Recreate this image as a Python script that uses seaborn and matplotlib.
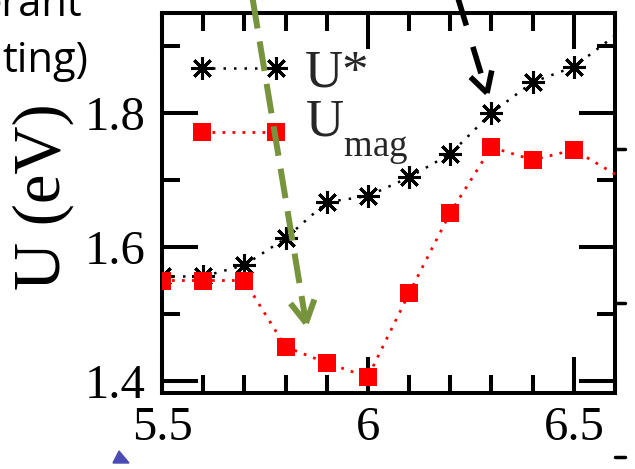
import numpy as np
import pandas as pd
import matplotlib
matplotlib.use("Agg")
import matplotlib.pyplot as plt
import seaborn as sns
from matplotlib.lines import Line2D
from matplotlib.patches import Polygon
from matplotlib.transforms import Affine2D
from matplotlib.ticker import MultipleLocator, FixedLocator, FixedFormatter

try:  # deeper subscript drop, as in the reference's "U_mag"
    import matplotlib._mathtext as _mt
    _mt.FontConstantsBase.sub1 = 0.85
except Exception:
    pass

# ---- data ----
x_vals = [5.5, 5.6, 5.7, 5.8, 5.9, 6.0, 6.1, 6.2, 6.3, 6.4, 6.5, 6.7]
u_star = [1.556, 1.556, 1.573, 1.613, 1.667, 1.676, 1.704, 1.739, 1.800, 1.846, 1.869, 1.962]
u_mag = [1.550, 1.550, 1.550, 1.451, 1.427, 1.406, 1.531, 1.651, 1.749, 1.730, 1.745, 1.673]
x_ticks = [5.5, 6.0, 6.5]
x_ticklabels = ["5.5", "6", "6.5"]
y_ticks = [1.4, 1.6, 1.8]
y_ticklabels = ["1.4", "1.6", "1.8"]
label_star = "U*"
label_mag = r"U$_{\mathrm{mag}}$"

W, H = 635, 469
sns.set_style("ticks")
plt.rcParams["font.family"] = ["Liberation Serif", "DejaVu Serif"]
plt.rcParams["mathtext.fontset"] = "custom"
plt.rcParams["mathtext.rm"] = "Liberation Serif"
plt.rcParams["mathtext.it"] = "Liberation Serif:italic"

fig = plt.figure(figsize=(W / 100, H / 100), dpi=100)
ax = fig.add_axes([162 / W, 1 - 393 / H, 453 / W, 380 / H])

df = pd.DataFrame({"x": x_vals, "ustar": u_star, "umag": u_mag})
sns.lineplot(data=df, x="x", y="umag", ax=ax, color="#ff0000", marker="s",
             markersize=13, markeredgecolor="#ff0000", markeredgewidth=0,
             linestyle=(0, (1, 2.6)), linewidth=2.0, label=label_mag, zorder=3)
sns.lineplot(data=df, x="x", y="ustar", ax=ax, color="black", marker=(8, 2, 0),
             markersize=16.5, markeredgecolor="black", markeredgewidth=2.2,
             linestyle=(0, (1, 3.2)), linewidth=1.8, label=label_star, zorder=2)

ax.set_xlim(5.5, 6.6)
ax.set_ylim(1.3821, 1.9493)
ax.xaxis.set_major_locator(FixedLocator(x_ticks))
ax.xaxis.set_major_formatter(FixedFormatter(x_ticklabels))
ax.xaxis.set_minor_locator(MultipleLocator(0.1))
ax.yaxis.set_major_locator(FixedLocator(y_ticks))
ax.yaxis.set_major_formatter(FixedFormatter(y_ticklabels))
ax.yaxis.set_minor_locator(MultipleLocator(0.1))
ax.tick_params(which="both", direction="in", top=True, right=True, width=2.9,
               color="black", labelsize=35, labelcolor="black")
ax.tick_params(which="major", length=26)
ax.tick_params(which="minor", length=13)
ax.tick_params(axis="x", pad=9)
ax.tick_params(axis="y", pad=12)
for s in ax.spines.values():
    s.set_linewidth(2.9)
    s.set_color("black")
ax.set_xlabel("")
ax.set_ylabel("U (eV)", fontsize=48, color="black")
ax.yaxis.set_label_coords(-0.195, 0.517)

handles, labels = ax.get_legend_handles_labels()
order = [labels.index(label_star), labels.index(label_mag)]
leg = ax.legend([handles[i] for i in order], [labels[i] for i in order],
                loc="upper left", bbox_to_anchor=(0.053, 0.905), frameon=False,
                fontsize=38, handlelength=2.0, handletextpad=0.25, borderpad=0,
                borderaxespad=0, labelspacing=0.31, numpoints=2)
# the reference centres the subscripted label on its markers
t_mag = leg.get_texts()[1]
t_mag.set_transform(t_mag.get_transform() + Affine2D().translate(0, 14))


def P(px, py):
    return px / W, 1 - py / H


def arrow(start, tip, color, lw, dashes, arm, half_deg):
    x0, y0 = start
    x1, y1 = tip
    d = np.array([x1 - x0, y1 - y0], float)
    d /= np.hypot(*d)
    end = np.array(tip) - d * 6
    fx, fy = zip(P(x0, y0), P(*end))
    fig.add_artist(Line2D(fx, fy, transform=fig.transFigure, color=color, lw=lw,
                          linestyle=(0, dashes), solid_capstyle="butt",
                          dash_capstyle="butt", zorder=10))
    back = -d
    for sgn in (1, -1):
        a = np.deg2rad(half_deg) * sgn
        rot = np.array([[np.cos(a), -np.sin(a)], [np.sin(a), np.cos(a)]])
        v = rot @ back
        p = np.array(tip) + v * arm
        fx, fy = zip(P(*p), P(*tip))
        fig.add_artist(Line2D(fx, fy, transform=fig.transFigure, color=color,
                              lw=lw, solid_capstyle="butt", zorder=10))


arrow((252, -5), (306, 323), "#77933c", 4.3, (5, 2.2), 25, 29)
arrow((457, -5), (487, 93), "black", 4.0, (5, 4), 23, 29)

# fragments of neighbouring elements
fig.text(P(82, 16)[0], P(82, 16)[1], "erant", ha="right", va="baseline",
         fontsize=30, family=["Open Sans", "DejaVu Sans"], color="black")
fig.text(P(88, 72)[0], P(88, 72)[1], "ting)", ha="right", va="baseline",
         fontsize=30, family=["Open Sans", "DejaVu Sans"], color="black")
fig.add_artist(Polygon([P(113, 463), P(119, 451), P(129, 463)], closed=True,
                       transform=fig.transFigure, color="#4b4bb5", zorder=10))
for yy in (149, 303, 457):
    fx, fy = zip(P(615, yy), P(625, yy))
    fig.add_artist(Line2D(fx, fy, transform=fig.transFigure, color="black",
                          lw=2.5, zorder=10))

fig.savefig("out.png", dpi=100)
